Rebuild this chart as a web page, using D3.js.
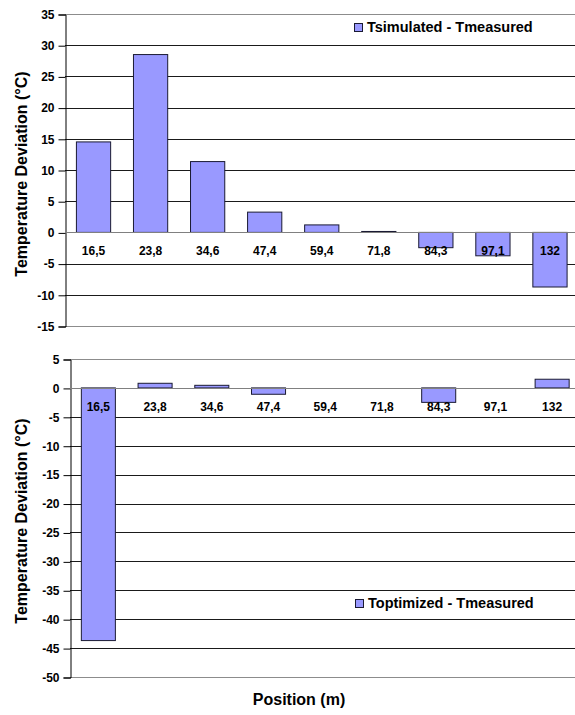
<!DOCTYPE html>
<html>
<head>
<meta charset="utf-8">
<script src="https://cdn.jsdelivr.net/npm/d3@7"></script>
<style>
  body { margin: 0; background: #fff; }
  text { font-family: Arial, "Liberation Sans", sans-serif; font-weight: bold; fill: #000; }
</style>
</head>
<body>
<svg id="chart" width="575" height="715"></svg>
<script>
const positions = ["16,5", "23,8", "34,6", "47,4", "59,4", "71,8", "84,3", "97,1", "132"];
const simulatedDev = [14.5, 28.5, 11.35, 3.25, 1.2, 0.15, -2.45, -3.75, -8.75];
const optimizedDev = [-43.7, 0.8, 0.45, -1.1, 0, 0, -2.5, 0, 1.5];
const topTicks = [35, 30, 25, 20, 15, 10, 5, 0, -5, -10, -15];
const bottomTicks = [5, 0, -5, -10, -15, -20, -25, -30, -35, -40, -45, -50];

const barFill = "#9999ff";

class DeviationPanel {
    constructor(_config) {
        this.config = {
            svg: _config.svg,
            left: _config.left,
            right: _config.right || 578.5,
            top: _config.top,
            bottom: _config.bottom,
            domain: _config.domain,
            ticks: _config.ticks,
            values: _config.values,
            legend: _config.legend,
            legendX: _config.legendX,
            legendY: _config.legendY,
            titleY: _config.titleY
        }
        this.initVis();
    }

    initVis() {
        let vis = this;
        let c = vis.config;

        vis.xScale = d3.scaleBand()
            .domain(positions)
            .range([c.left, c.right])
            .paddingInner(0.4)
            .paddingOuter(0.2);

        vis.yScale = d3.scaleLinear()
            .domain(c.domain)
            .range([c.bottom, c.top]);

        vis.g = c.svg.append("g");

        // gridlines
        vis.g.selectAll(".grid").data(c.ticks).enter().append("line")
            .attr("x1", c.left)
            .attr("x2", 575)
            .attr("y1", d => Math.round(vis.yScale(d)) + 0.5)
            .attr("y2", d => Math.round(vis.yScale(d)) + 0.5)
            .attr("stroke", (d, i) => (i == 0 || i == c.ticks.length - 1) ? "#8c8c8c" : "#1a1a1a")
            .attr("stroke-width", 1);

        // y axis, plain hyphen for negatives like the original
        let yAxis = d3.axisLeft(vis.yScale)
            .tickValues(c.ticks)
            .tickSize(7)
            .tickPadding(4)
            .tickFormat(d => String(d));

        vis.g.append("g")
            .attr("transform", `translate(${Math.round(c.left) + 0.5},0.5)`)
            .call(yAxis)
            .call(g => g.select(".domain").attr("stroke", "#000"))
            .call(g => g.selectAll(".tick line").attr("stroke", "#000"))
            .call(g => g.selectAll(".tick text")
                .attr("font-size", "12px")
                .attr("font-family", "Arial, 'Liberation Sans', sans-serif")
                .attr("font-weight", "bold")
                .attr("fill", "#000"));

        // bars
        vis.g.selectAll(".bar").data(c.values).enter().append("rect")
            .attr("x", (d, i) => vis.xScale(positions[i]))
            .attr("y", d => vis.yScale(Math.max(0, d)))
            .attr("width", vis.xScale.bandwidth())
            .attr("height", d => Math.abs(vis.yScale(d) - vis.yScale(0)))
            .attr("fill", barFill)
            .attr("stroke", "#1a1a33")
            .attr("stroke-width", 1);

        // zero axis
        vis.g.append("line")
            .attr("x1", c.left)
            .attr("x2", 575)
            .attr("y1", Math.round(vis.yScale(0)) + 0.5)
            .attr("y2", Math.round(vis.yScale(0)) + 0.5)
            .attr("stroke", "#808080");

        // category labels under the zero line
        vis.g.selectAll(".cat").data(positions).enter().append("text")
            .attr("x", d => vis.xScale(d) + vis.xScale.bandwidth() / 2)
            .attr("y", vis.yScale(0) + 23)
            .attr("text-anchor", "middle")
            .attr("font-size", "12px")
            .text(d => d);

        // legend
        vis.g.append("rect")
            .attr("x", c.legendX + 0.5)
            .attr("y", c.legendY + 0.5)
            .attr("width", 8)
            .attr("height", 8)
            .attr("fill", barFill)
            .attr("stroke", "#1a1a33");
        vis.g.append("text")
            .attr("x", c.legendX + 13)
            .attr("y", c.legendY + 9)
            .attr("font-size", "14.5px")
            .text(c.legend);

        // y title
        vis.g.append("text")
            .attr("transform", `translate(27,${c.titleY}) rotate(-90)`)
            .attr("text-anchor", "middle")
            .attr("font-size", "16px")
            .text("Temperature Deviation (°C)");
    }
}

let svg = d3.select("#chart");

new DeviationPanel({
    svg: svg,
    left: 65,
    right: 578.5,
    top: 14,
    bottom: 326,
    domain: [-15, 35],
    ticks: topTicks,
    values: simulatedDev,
    legend: "Tsimulated - Tmeasured",
    legendX: 354,
    legendY: 23,
    titleY: 174
});

new DeviationPanel({
    svg: svg,
    left: 70,
    right: 580.5,
    top: 359,
    bottom: 677,
    domain: [-50, 5],
    ticks: bottomTicks,
    values: optimizedDev,
    legend: "Toptimized - Tmeasured",
    legendX: 355,
    legendY: 599,
    titleY: 521
});

svg.append("text")
    .attr("x", 299)
    .attr("y", 705)
    .attr("text-anchor", "middle")
    .attr("font-size", "16px")
    .text("Position (m)");
</script>
</body>
</html>
